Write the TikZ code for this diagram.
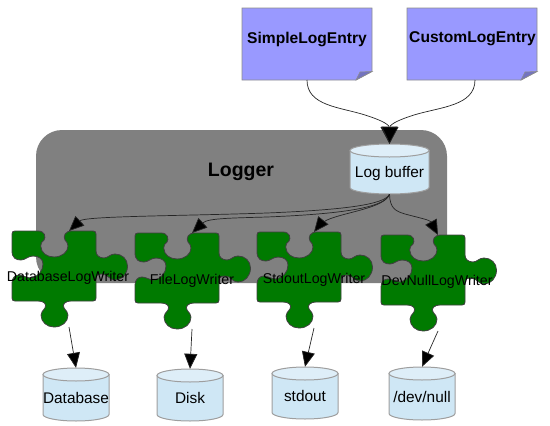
\documentclass[tikz,border=0pt]{standalone}
\usepackage{fontspec}
\setmainfont{Liberation Sans}
\usetikzlibrary{arrows.meta}
\definecolor{noteblue}{HTML}{9999FF}
\definecolor{cylbody}{HTML}{CFE7F5}
\definecolor{cyltop}{HTML}{DEEEF8}
\definecolor{piecegreen}{HTML}{007A00}
\tikzset{
  x=1pt,y=-1pt,
  storeline/.style={draw=black!38,line width=1pt},
  storetext/.style={inner sep=0pt,text height=17pt,text depth=0pt,font=\fontsize{15.4}{15}\selectfont},
  note/.style={draw=black!45,fill=noteblue,line width=.8pt},
  fold/.style={draw=black!45,fill=black!25!noteblue,line width=.6pt},
  wire/.style={draw=black!85,line width=.7pt,-{Triangle[length=15pt,width=13pt,fill=black]}},
  bigwire/.style={draw=black!85,line width=.7pt,-{Triangle[length=17pt,width=17pt,fill=black]}},
  piecelabel/.style={font=\fontsize{14.2}{14}\selectfont,inner sep=0pt},
  notelabel/.style={font=\bfseries\fontsize{15.6}{16}\selectfont,inner sep=0pt},
  puzzle/.pic={
    \draw[fill=piecegreen,draw=black!75,line width=.8pt]
      (3,0) -- (26,0)
      .. controls (33,0) and (34,6) .. (32,9)
      .. controls (30,11) and (28.5,12) .. (28.7,15)
      .. controls (29,22) and (35,26) .. (42,26)
      .. controls (50,26) and (56,21) .. (56,15)
      .. controls (56,12) and (54.5,11) .. (53,9)
      .. controls (51,5) and (53,0) .. (60,0)
      -- (81,0) .. controls (83,0) and (84,1) .. (84,3)
      -- (84,20)
      .. controls (84,24) and (87,27) .. (92,27)
      .. controls (96,27) and (98,23) .. (103,23)
      .. controls (110,23) and (115.5,28) .. (115.5,35)
      .. controls (115.5,43) and (110,49) .. (103,49)
      .. controls (97,49) and (96,43) .. (90,43)
      .. controls (87,43) and (84,43) .. (84,47)
      -- (84,67) .. controls (84,69) and (83,70) .. (81,70)
      -- (60,70)
      .. controls (53,70) and (50,73) .. (52,77)
      .. controls (54,80) and (56,81) .. (56,84)
      .. controls (56,91) and (50,96) .. (42,96)
      .. controls (35,96) and (29,91) .. (29,84)
      .. controls (29,81) and (31,80) .. (33,77)
      .. controls (35,73) and (32,70) .. (26,70)
      -- (3,70) .. controls (1,70) and (0,69) .. (0,67)
      -- (0,52)
      .. controls (0,47) and (3,44) .. (7,44)
      .. controls (11,44) and (14,47) .. (19,47)
      .. controls (26,46) and (31,40) .. (31,33)
      .. controls (31,28) and (27,25) .. (21,25)
      .. controls (16,25) and (13,29) .. (9,29)
      .. controls (4,29) and (0,27) .. (0,20)
      -- (0,3) .. controls (0,1) and (1,0) .. (3,0) -- cycle;
    \coordinate (-top) at (57,0);
    \coordinate (-bot) at (57,96);
  }
}
% name, centre x, centre y, half width, half height, text
\newcommand{\storecyl}[6]{%
  \path[storeline,fill=cylbody]
    (#2-#4,#3-#5+6.5) -- (#2-#4,#3+#5-6.5)
    arc[start angle=180,end angle=0,x radius=#4,y radius=6.5]
    -- (#2+#4,#3-#5+6.5) -- cycle;
  \path[storeline,fill=cyltop]
    (#2,#3-#5+6.5) circle[x radius=#4,y radius=6.5];
  \node[storetext,minimum width=2*#4 pt,minimum height=2*#5 pt] (#1) at (#2,#3) {#6};
}
\begin{document}
\begin{tikzpicture}
\useasboundingbox (0,0) rectangle (550,426);
% logger
\fill[black!50,rounded corners=26pt] (36,130) rectangle (447,283);
\node[font=\bfseries\fontsize{19.5}{20}\selectfont,inner sep=0pt] (logger) at (241,172) {Logger};
% notes
\draw[note] (242,8) -- (372,8) -- (372,71.5) -- (356,80) -- (242,80) -- cycle;
\draw[fold] (372,71.5) -- (360,72) -- (356,80) -- cycle;
\draw[note] (407,8) -- (537,8) -- (537,71.5) -- (521,80) -- (407,80) -- cycle;
\draw[fold] (537,71.5) -- (525,72) -- (521,80) -- cycle;
\node[notelabel] (simple) at (307,39) {SimpleLogEntry};
\node[notelabel] (custom) at (472.5,39) {CustomLogEntry};
\coordinate (simpleout) at (307,80);
\coordinate (customout) at (475,80);
% buffer
\storecyl{buffer}{389.5}{169}{39.5}{25}{Log buffer}
\draw[bigwire] (simpleout) .. controls (307,106) and (340,107) .. (365,115) .. controls (378,119) and (389,124) .. (buffer.north);
\draw[bigwire] (customout) .. controls (475,106) and (440,107) .. (414,115) .. controls (401,119) and (390,124) .. (buffer.north);
\coordinate (bufout) at (buffer.south);
% pieces and connectors
\pic (p1) at (12,231) {puzzle};
\pic (p2) at (135,233) {puzzle};
\pic (p3) at (257,232) {puzzle};
\pic (p4) at (381,235) {puzzle};
\draw[wire] (bufout) .. controls (385,205) and (340,210) .. (267,213) .. controls (180,216) and (85,216) .. (p1-top);
\draw[wire] (bufout) .. controls (385,208) and (340,214) .. (267,217) .. controls (235,218) and (208,218) .. (p2-top);
\draw[wire] (bufout) .. controls (385,208) and (345,212) .. (327,220) .. controls (321,223) and (318,227) .. (p3-top);
\draw[wire] (bufout) .. controls (390,208) and (395,211) .. (405,214) .. controls (420,218) and (430,220) .. (p4-top);
% labels
\node[piecelabel] (w1) at (68,278) {DatabaseLogWriter};
\node[piecelabel] (w2) at (192,281) {FileLogWriter};
\node[piecelabel] (w3) at (314,280) {StdoutLogWriter};
\node[piecelabel] (w4) at (437,282) {DevNullLogWriter};
% stores
\storecyl{db}{76}{394.5}{33}{26.5}{Database}
\storecyl{disk}{190}{395}{33}{26}{Disk}
\storecyl{out}{305}{393}{33}{26}{stdout}
\storecyl{null}{422}{393.5}{33}{26.5}{/dev/null}
\draw[wire] (p1-bot) -- (db.north);
\draw[wire] (p2-bot) -- (disk.north);
\draw[wire] (p3-bot) -- (out.north);
\draw[wire] (p4-bot) -- (null.north);
\end{tikzpicture}
\end{document}
